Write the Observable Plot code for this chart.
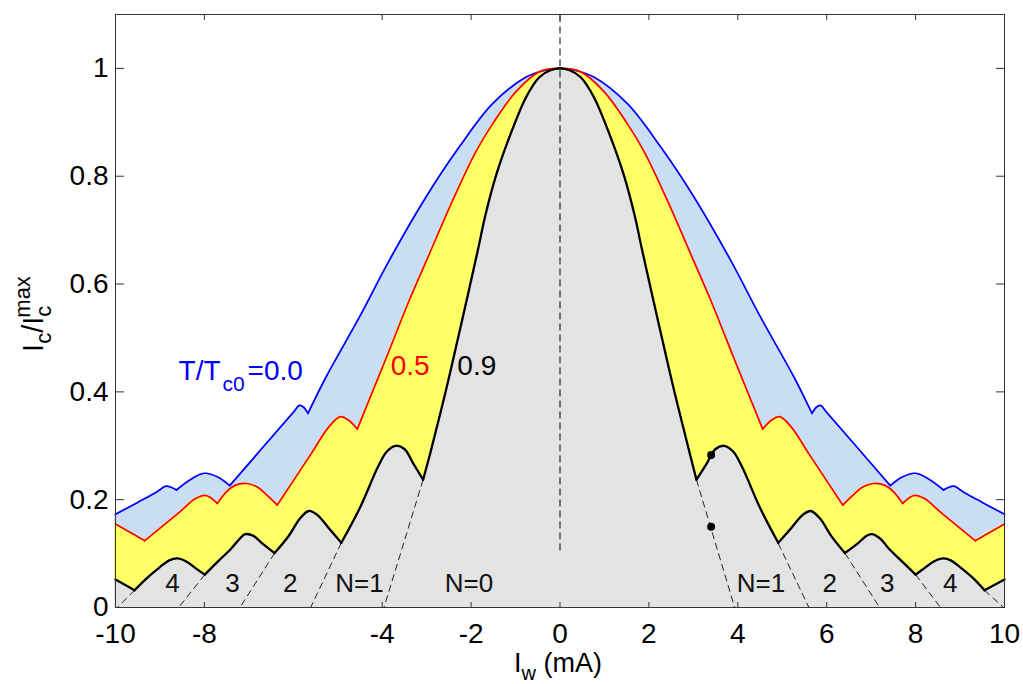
<!DOCTYPE html>
<html>
<head>
<meta charset="utf-8">
<script src="https://cdn.jsdelivr.net/npm/d3@7"></script>
<script src="https://cdn.jsdelivr.net/npm/@observablehq/plot@0.6"></script>
<style>
  html, body { margin: 0; padding: 0; background: #fff; }
  #chart { width: 1023px; height: 684px; }
</style>
</head>
<body>
<div id="chart"></div>
<script>
// ---- data ----
// T/Tc0 = 0.0 (blue)
const xT00 = [-10, -9.5, -9.1, -8.86, -8.75, -8.63, -8.3, -8.0, -7.7, -7.43, -6.0, -5.86, -5.76, -5.67, -5.26, -4.51, -3.84, -3.01, -2.26, -1.51, -0.76, -0.3, 0,
              0.3, 0.76, 1.51, 2.26, 3.01, 3.84, 4.51, 5.26, 5.67, 5.76, 5.86, 6.0, 7.43, 7.7, 8.0, 8.3, 8.63, 8.75, 8.86, 9.1, 9.5, 10];
const yT00 = [0.173, 0.195, 0.213, 0.225, 0.223, 0.218, 0.238, 0.249, 0.242, 0.226, 0.362, 0.375, 0.371, 0.360, 0.428, 0.539, 0.644, 0.762, 0.855, 0.935, 0.984, 0.997, 1.0,
              0.997, 0.984, 0.935, 0.855, 0.762, 0.644, 0.539, 0.428, 0.360, 0.371, 0.375, 0.362, 0.226, 0.242, 0.249, 0.238, 0.218, 0.223, 0.225, 0.213, 0.195, 0.173];
const cuspT00 = [-8.63, -7.43, -5.67, 5.67, 7.43, 8.63];
// T/Tc0 = 0.5 (red)
const xT05 = [-10, -9.34, -8.6, -8.2, -7.98, -7.85, -7.71, -7.5, -7.3, -7.04, -6.8, -6.6, -6.36, -5.6, -5.2, -4.94, -4.75, -4.56, -4.2, -3.89, -3.4, -2.97, -2.41, -1.91, -1.51, -0.99, -0.46, 0,
              0.46, 0.99, 1.51, 1.91, 2.41, 2.97, 3.4, 3.89, 4.2, 4.56, 4.75, 4.94, 5.2, 5.6, 6.36, 6.6, 6.8, 7.04, 7.3, 7.5, 7.71, 7.85, 7.98, 8.2, 8.6, 9.34, 10];
const yT05 = [0.155, 0.124, 0.174, 0.202, 0.208, 0.203, 0.193, 0.215, 0.227, 0.230, 0.223, 0.209, 0.190, 0.285, 0.335, 0.354, 0.347, 0.331, 0.404, 0.467, 0.568, 0.650, 0.756, 0.843, 0.898, 0.957, 0.994, 1.0,
              0.994, 0.957, 0.898, 0.843, 0.756, 0.650, 0.568, 0.467, 0.404, 0.331, 0.347, 0.354, 0.335, 0.285, 0.190, 0.209, 0.223, 0.230, 0.227, 0.215, 0.193, 0.203, 0.208, 0.202, 0.174, 0.124, 0.155];
const cuspT05 = [-9.34, -7.71, -6.36, -4.56, 4.56, 6.36, 7.71, 9.34];
// T/Tc0 = 0.9 (black)
const xT09 = [-10, -9.57, -9.3, -9.0, -8.8, -8.61, -8.4, -8.2, -7.99, -7.7, -7.4, -7.2, -7.08, -6.9, -6.7, -6.42, -6.1, -5.85, -5.65, -5.45, -5.2, -4.92, -4.5, -4.1, -3.9, -3.70, -3.5, -3.3, -3.08, -2.90, -2.56, -2.26, -1.85, -1.68, -1.44, -1.14, -0.76, -0.46, -0.2, 0,
              0.2, 0.46, 0.76, 1.14, 1.44, 1.68, 1.85, 2.26, 2.56, 2.90, 3.07, 3.3, 3.5, 3.69, 3.9, 4.1, 4.5, 4.91, 5.2, 5.45, 5.64, 5.85, 6.1, 6.41, 6.7, 6.9, 7.02, 7.2, 7.4, 7.7, 8.0, 8.2, 8.4, 8.63, 8.8, 9.0, 9.3, 9.55, 10];
const yT09 = [0.052, 0.032, 0.054, 0.075, 0.087, 0.091, 0.085, 0.073, 0.061, 0.085, 0.109, 0.128, 0.136, 0.133, 0.119, 0.101, 0.133, 0.165, 0.179, 0.171, 0.147, 0.120, 0.185, 0.260, 0.289, 0.300, 0.294, 0.267, 0.237, 0.292, 0.405, 0.512, 0.662, 0.727, 0.801, 0.872, 0.947, 0.984, 0.997, 1.0,
              0.997, 0.984, 0.947, 0.872, 0.801, 0.727, 0.662, 0.512, 0.405, 0.292, 0.237, 0.267, 0.294, 0.300, 0.289, 0.260, 0.185, 0.120, 0.147, 0.171, 0.179, 0.165, 0.133, 0.101, 0.119, 0.133, 0.136, 0.128, 0.109, 0.085, 0.061, 0.073, 0.085, 0.091, 0.087, 0.075, 0.054, 0.032, 0.052];
const cuspT09 = [-9.57, -7.99, -6.42, -4.92, -3.08, 3.07, 4.91, 6.41, 8.00, 9.55];
// dashed continuations of the N-branches (from cusp down to zero)
const branchX1 = [-3.08, -4.92, -6.42, -7.99, -9.57, 3.07, 4.91, 6.41, 8.00, 9.55];
const branchY1 = [0.237, 0.120, 0.101, 0.061, 0.032, 0.237, 0.119, 0.101, 0.061, 0.032];
const branchX2 = [-3.96, -5.61, -7.20, -8.58, -9.96, 3.93, 5.60, 7.19, 8.56, 9.98];
// highlighted points
const markX = [3.40, 3.40];
const markY = [0.283, 0.150];
// branch labels
const nLabels = ["4", "3", "2", "N=1", "N=0", "N=1", "2", "3", "4"];
const nLabelX = [-8.72, -7.37, -6.07, -4.51, -2.05, 4.52, 6.07, 7.36, 8.78];
const nLabelY = 0.029;
// tick values
const xTicks = [-10, -8, -4, -2, 0, 2, 4, 6, 8, 10];
const yTicks = [0, 0.2, 0.4, 0.6, 0.8, 1];

// ---- build tables: split each curve into its lobes (cusps kept sharp) ----
function lobes(xs, ys, cusps) {
  const rows = [];
  const bounds = [-Infinity, ...cusps, Infinity];
  for (let k = 0; k < bounds.length - 1; k++) {
    xs.forEach((x, i) => {
      if (x >= bounds[k] - 1e-9 && x <= bounds[k + 1] + 1e-9) rows.push({x, y: ys[i], lobe: k});
    });
  }
  return rows;
}
const blue = lobes(xT00, yT00, cuspT00);
const red = lobes(xT05, yT05, cuspT05);
const black = lobes(xT09, yT09, cuspT09);
const branches = branchX1.map((x1, i) => ({x1, y1: branchY1[i], x2: branchX2[i], y2: 0}));
const marks = markX.map((x, i) => ({x, y: markY[i]}));
const nRows = nLabels.map((t, i) => ({t, x: nLabelX[i], y: nLabelY}));

const FONT = "'Liberation Sans', Arial, Helvetica, sans-serif";
const CURVE = "catmull-rom";

const chart = Plot.plot({
  width: 1023,
  height: 684,
  marginLeft: 115,
  marginRight: 19,
  marginTop: 14,
  marginBottom: 77,
  x: {domain: [-10, 10], label: null},
  y: {domain: [0, 1.1], label: null},
  style: {fontFamily: FONT, fontSize: "28px", background: "white", color: "#000"},
  marks: [
    Plot.areaY(blue, {x: "x", y1: 0, y2: "y", z: "lobe", curve: CURVE, fill: "#c9ddf3", stroke: "#c9ddf3", strokeWidth: 1}),
    Plot.areaY(red, {x: "x", y1: 0, y2: "y", z: "lobe", curve: CURVE, fill: "#ffff66", stroke: "#ffff66", strokeWidth: 1}),
    Plot.areaY(black, {x: "x", y1: 0, y2: "y", z: "lobe", curve: CURVE, fill: "#e3e3e3", stroke: "#e3e3e3", strokeWidth: 1}),
    Plot.ruleX([0], {y1: 0.105, y2: 1.1, stroke: "#000", strokeWidth: 1, strokeDasharray: "7,4"}),
    Plot.link(branches, {x1: "x1", y1: "y1", x2: "x2", y2: "y2", stroke: "#222", strokeWidth: 1, strokeDasharray: "7,4"}),
    Plot.line(blue, {x: "x", y: "y", z: "lobe", curve: CURVE, stroke: "#0000ff", strokeWidth: 1.7, strokeLinecap: "round"}),
    Plot.line(red, {x: "x", y: "y", z: "lobe", curve: CURVE, stroke: "#ff0000", strokeWidth: 1.7, strokeLinecap: "round"}),
    Plot.line(black, {x: "x", y: "y", z: "lobe", curve: CURVE, stroke: "#000", strokeWidth: 2.3, strokeLinecap: "round"}),
    Plot.dot(marks, {x: "x", y: "y", r: 4, fill: "#000", stroke: null}),
    Plot.text(nRows, {x: "x", y: "y", text: "t", fontSize: 26, fill: "#111", lineAnchor: "bottom", textAnchor: "middle"}),
    Plot.text(["T/T"], {x: -8.58, y: 0.422, fontSize: 28, fill: "#0000ff", textAnchor: "start", lineAnchor: "bottom"}),
    Plot.text(["c0"], {x: -8.58, y: 0.422, dx: 44, dy: 11, fontSize: 21, fill: "#0000ff", textAnchor: "start", lineAnchor: "bottom"}),
    Plot.text(["=0.0"], {x: -8.58, y: 0.422, dx: 69, fontSize: 28, fill: "#0000ff", textAnchor: "start", lineAnchor: "bottom"}),
    Plot.text(["0.5"], {x: -3.81, y: 0.431, fontSize: 28, fill: "#ff0000", textAnchor: "start", lineAnchor: "bottom"}),
    Plot.text(["0.9"], {x: -2.31, y: 0.431, fontSize: 28, fill: "#000", textAnchor: "start", lineAnchor: "bottom"}),
    Plot.frame({stroke: "#333", strokeWidth: 1}),
    Plot.axisX({anchor: "bottom", ticks: xTicks, tickSize: 0, tickPadding: 16, tickFormat: d => String(d), fontSize: 28}),
    Plot.axisX({anchor: "bottom", ticks: xTicks, tickSize: -5, tickFormat: () => "", stroke: "#333"}),
    Plot.axisX({anchor: "top", ticks: xTicks, tickSize: -5, tickFormat: () => "", stroke: "#333"}),
    Plot.axisY({anchor: "left", ticks: yTicks, tickSize: 0, tickPadding: 7, tickFormat: d => String(d), fontSize: 28}),
    Plot.axisY({anchor: "left", ticks: yTicks, tickSize: -9, tickFormat: () => "", stroke: "#333"}),
    Plot.axisY({anchor: "right", ticks: yTicks, tickSize: -9, tickFormat: () => "", stroke: "#333"})
  ]
});

document.getElementById("chart").appendChild(chart);

// axis titles with sub/superscripts
const svg = d3.select(chart);
const yt = svg.append("text")
  .attr("transform", "translate(43,314) rotate(-90)")
  .attr("text-anchor", "middle")
  .attr("font-family", FONT)
  .attr("font-size", 29)
  .attr("fill", "#000");
yt.append("tspan").text("I");
yt.append("tspan").attr("font-size", 22).attr("dy", 8).text("c");
yt.append("tspan").attr("dy", -8).text("/I");
yt.append("tspan").attr("font-size", 22).attr("dy", 8).text("c");
yt.append("tspan").attr("font-size", 22).attr("dx", -12).attr("dy", -21).text("max");

const xt = svg.append("text")
  .attr("x", 514)
  .attr("y", 672)
  .attr("text-anchor", "start")
  .attr("font-family", FONT)
  .attr("font-size", 27)
  .attr("fill", "#000");
xt.append("tspan").text("I");
xt.append("tspan").attr("font-size", 20).attr("dy", 8).text("w");
xt.append("tspan").attr("dy", -8).text(" (mA)");
</script>
</body>
</html>
